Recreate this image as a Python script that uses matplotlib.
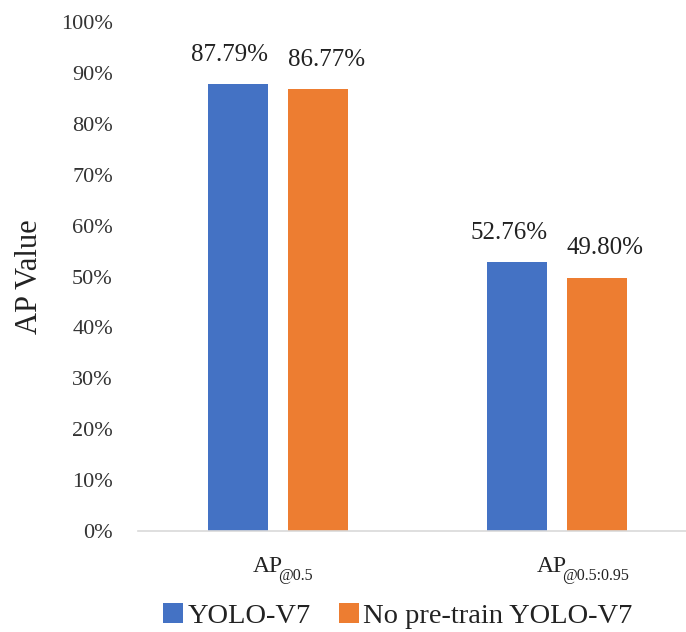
import matplotlib
matplotlib.use('Agg')
import matplotlib.pyplot as plt
import numpy as np

# du lieu: AP cua hai mo hinh
categories = ['AP', 'AP']
subscripts = ['@0.5', '@0.5:0.95']
yolo_v7 = [87.79, 52.76]
no_pretrain = [86.77, 49.80]
series_names = ['YOLO-V7', 'No pre-train YOLO-V7']
colors = ['#4472C4', '#ED7D31']

plt.rcParams['font.family'] = ['Liberation Serif', 'DejaVu Serif']

fig = plt.figure(figsize=(6.86, 6.32), dpi=100)
ax = fig.add_axes([0.201, 0.160, 0.799, 0.805])

x = np.arange(len(categories))
w = 0.215
off = 0.143
b1 = ax.bar(x - off, np.array(yolo_v7) / 100, w, color=colors[0], label=series_names[0])
b2 = ax.bar(x + off, np.array(no_pretrain) / 100, w, color=colors[1], label=series_names[1])

# nhan gia tri tren cot (hoi tach ra hai ben)
for bars, vals, dx in [(b1, yolo_v7, -6), (b2, no_pretrain, 6)]:
    for rect, v in zip(bars, vals):
        ax.annotate('%.2f%%' % v, (rect.get_x() + rect.get_width() / 2, rect.get_height()),
                    xytext=(dx, 13), textcoords='offset points',
                    ha='center', va='bottom', fontsize=18, color='#222222')

ax.set_xlim(-0.502, 1.462)
ax.set_ylim(0, 1.0)
ax.set_yticks(np.arange(0, 1.01, 0.1))
ax.set_yticklabels(['%d%%' % v for v in range(0, 101, 10)], fontsize=16, color='#333333')
ax.set_xticks(x)
ax.set_xticklabels([])
ax.tick_params(axis='both', length=0)
ax.tick_params(axis='y', pad=18)

# nhan truc x: AP + chi so duoi
shifts = [-18, -14.5]
for xi, cat, sub, s in zip(x, categories, subscripts, shifts):
    t = ax.annotate(cat, xy=(xi, 0), xycoords=('data', 'axes fraction'),
                    xytext=(s, -18), textcoords='offset points',
                    ha='left', va='top', fontsize=17, color='#222222')
    ax.annotate(sub, xy=(1, 0), xycoords=t, xytext=(-3.5, -2.5), textcoords='offset points',
                ha='left', va='baseline', fontsize=11.5, color='#222222')

for s in ['top', 'right', 'left']:
    ax.spines[s].set_visible(False)
ax.spines['bottom'].set_color('#d9d9d9')
ax.spines['bottom'].set_linewidth(1.2)

ax.set_ylabel('AP Value', fontsize=22, color='#222222', labelpad=12)

fig.legend(handles=[b1, b2], loc='center', bbox_to_anchor=(0.58, 1 - 616 / 632), ncol=2,
           frameon=False, fontsize=20.5, handlelength=0.7, handleheight=0.7,
           handletextpad=0.15, columnspacing=1.0, labelcolor='#222222',
           borderpad=0, borderaxespad=0)

fig.savefig('out.png', dpi=100)
